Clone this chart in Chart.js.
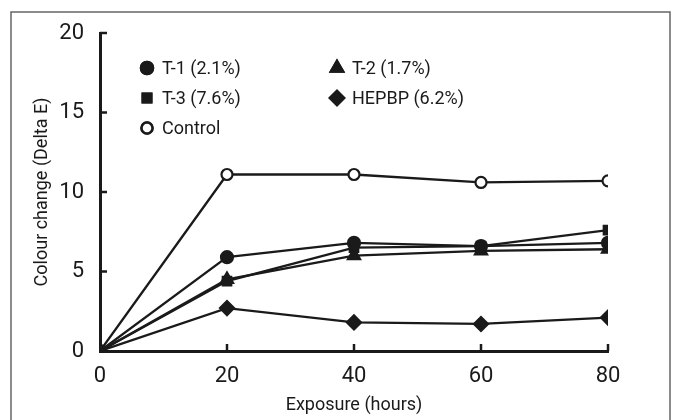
<!DOCTYPE html>
<html lang="en">
<head>
<meta charset="UTF-8">
<script src="https://cdn.jsdelivr.net/npm/chart.js"></script>
<style>
  body { margin: 0; background: #fff; }
  #wrap { width: 678px; height: 420px; position: relative; }
</style>
</head>
<body>
<div id="wrap"><canvas id="myChart" width="678" height="420"></canvas></div>
<script>
// data
const hours = [0, 20, 40, 60, 80]
const seriesNames = ['T-1 (2.1%)', 'T-2 (1.7%)', 'T-3 (7.6%)', 'HEPBP (6.2%)', 'Control']
const t1 = [0, 5.9, 6.8, 6.6, 6.8]
const t2 = [0, 4.5, 6.0, 6.3, 6.4]
const t3 = [0, 4.4, 6.5, 6.6, 7.6]
const hepbp = [0, 2.7, 1.8, 1.7, 2.1]
const control = [0, 11.1, 11.1, 10.6, 10.7]
const yTicks = [0, 5, 10, 15, 20]
const xTicks = [0, 20, 40, 60, 80]

const FONT = "Roboto, 'Liberation Sans', sans-serif"
const INK = '#1a1a1a'

function pts(vals) {
    return hours.map((h, i) => ({ x: h, y: vals[i] }))
}

const styles = [
    { pointStyle: 'circle', radius: 6, bg: INK },
    { pointStyle: 'triangle', radius: 7, bg: INK },
    { pointStyle: 'rect', radius: 6, bg: INK },
    { pointStyle: 'rectRot', radius: 7, bg: INK },
    { pointStyle: 'circle', radius: 5.5, bg: '#fff' }
]
const allVals = [t1, t2, t3, hepbp, control]

const datasets = allVals.map((v, i) => ({
    label: seriesNames[i],
    data: pts(v),
    borderColor: INK,
    borderWidth: 2.3,
    pointStyle: styles[i].pointStyle,
    pointRadius: styles[i].radius,
    pointBackgroundColor: styles[i].bg,
    pointBorderColor: INK,
    pointBorderWidth: 2.2,
    tension: 0
}))

// frame, inward ticks and the in-plot legend
const extras = {
    id: 'extras',
    beforeDraw(chart) {
        const c = chart.ctx
        c.save()
        c.fillStyle = '#fff'
        c.fillRect(0, 0, chart.width, chart.height)
        c.strokeStyle = '#666'
        c.lineWidth = 1.5
        c.beginPath()
        c.moveTo(11, 421)
        c.lineTo(11, 12)
        c.lineTo(670, 12)
        c.lineTo(670, 421)
        c.stroke()
        c.restore()
    },
    afterDraw(chart) {
        const c = chart.ctx
        const xs = chart.scales.x
        const ys = chart.scales.y
        c.save()
        c.strokeStyle = INK
        c.lineWidth = 2.5
        yTicks.forEach(v => {
            if (v === 0) return
            const py = ys.getPixelForValue(v)
            c.beginPath()
            c.moveTo(xs.left, py)
            c.lineTo(xs.left + 7, py)
            c.stroke()
        })
        xTicks.forEach(v => {
            if (v === 0) return
            const px = xs.getPixelForValue(v)
            c.beginPath()
            c.moveTo(px, ys.bottom)
            c.lineTo(px, ys.bottom - 7)
            c.stroke()
        })
        // legend
        const cols = [147, 337]
        const rows = [68, 98, 128]
        c.font = '18px ' + FONT
        c.textBaseline = 'middle'
        chart.data.datasets.forEach((ds, i) => {
            const x = cols[i % 2]
            const y = rows[Math.floor(i / 2)]
            Chart.helpers.drawPoint(c, {
                pointStyle: ds.pointStyle,
                radius: ds.pointRadius,
                borderWidth: 2.5,
                rotation: 0
            }, x, y)
            c.fillStyle = ds.pointBackgroundColor
            c.strokeStyle = INK
            c.lineWidth = 2.5
            c.fill()
            c.stroke()
            c.fillStyle = INK
            c.fillText(ds.label, x + 15, y + 1)
        })
        c.restore()
    }
}

new Chart(document.getElementById('myChart'), {
    type: 'line',
    data: { datasets: datasets },
    options: {
        responsive: false,
        animation: false,
        layout: { padding: { left: 0, top: 33, right: 70, bottom: 0 } },
        plugins: { legend: { display: false }, tooltip: { enabled: false } },
        scales: {
            x: {
                type: 'linear',
                min: 0,
                max: 80,
                afterFit: s => { s.height = 69 },
                afterBuildTicks: s => { s.ticks = xTicks.map(v => ({ value: v })) },
                grid: { display: false },
                border: { display: true, color: INK, width: 3 },
                ticks: { color: INK, font: { family: FONT, size: 22 }, padding: 4 },
                title: { display: true, text: 'Exposure (hours)', color: INK, font: { family: FONT, size: 18 }, padding: { top: 1 } }
            },
            y: {
                min: 0,
                max: 20,
                afterFit: s => { s.width = 100 },
                afterBuildTicks: s => { s.ticks = yTicks.map(v => ({ value: v })) },
                grid: { display: false },
                border: { display: true, color: INK, width: 3 },
                ticks: { color: INK, font: { family: FONT, size: 22 }, padding: 8 },
                title: { display: true, text: 'Colour change (Delta E)', color: INK, font: { family: FONT, size: 18 }, padding: { top: 32, bottom: 0 } }
            }
        }
    },
    plugins: [extras]
})
</script>
</body>
</html>
